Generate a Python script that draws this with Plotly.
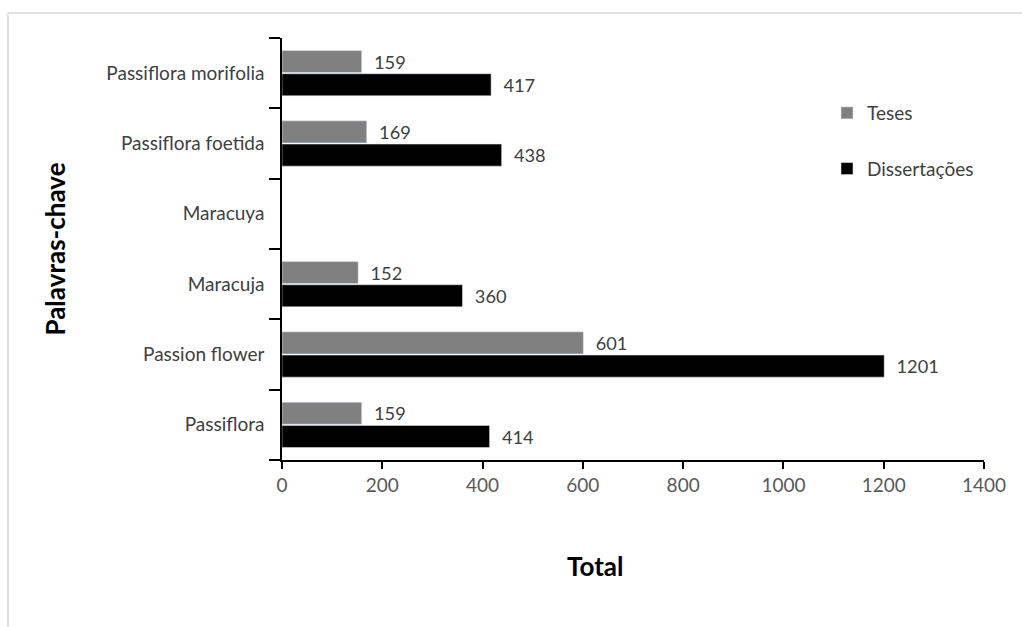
import plotly.graph_objects as go

categories = ["Passiflora", "Passion flower", "Maracuja", "Maracuya", "Passiflora foetida", "Passiflora morifolia"]
teses = [159, 601, 152, None, 169, 159]
dissertacoes = [414, 1201, 360, None, 438, 417]
x_ticks = [0, 200, 400, 600, 800, 1000, 1200, 1400]

W, H = 1022, 627
L, R, T, B = 282, 38, 38, 167
FONT = "Lato, Open Sans, sans-serif"
PAD = "\u00a0\u00a0"

fig = go.Figure()
fig.add_trace(go.Bar(
    y=categories, x=dissertacoes, orientation="h", name="Dissertações",
    legendgroup="d", legendrank=2,
    marker=dict(color="#000000"),
    text=[PAD + str(v) if v is not None else "" for v in dissertacoes],
    textposition="outside", cliponaxis=False,
    textfont=dict(size=19, color="#404040", family=FONT),
))
fig.add_trace(go.Bar(
    y=categories, x=teses, orientation="h", name="Teses",
    legendgroup="t", legendrank=1,
    marker=dict(color="#808080"),
    text=[PAD + str(v) if v is not None else "" for v in teses],
    textposition="outside", cliponaxis=False,
    textfont=dict(size=19, color="#404040", family=FONT),
))

pw = W - L - R
ph = H - T - B
def px_x(p):
    return (p - L) / pw
def px_y(p):
    return (H - B - p) / ph

fig.update_layout(
    width=W, height=H,
    margin=dict(l=L, r=R, t=T, b=B),
    paper_bgcolor="white", plot_bgcolor="white",
    barmode="group", bargap=0.34, bargroupgap=0.05,
    font=dict(family=FONT, size=19, color="#595959"),
    showlegend=True,
    legend=dict(
        x=px_x(827), y=px_y(94), xanchor="left", yanchor="top",
        traceorder="grouped", tracegroupgap=28,
        font=dict(size=19, color="#404040", family=FONT),
        bgcolor="rgba(0,0,0,0)", itemwidth=30,
    ),
    xaxis=dict(
        range=[0, 1400], tickvals=x_ticks, ticktext=[str(v) for v in x_ticks],
        showgrid=False, zeroline=False,
        showline=True, linecolor="#000000", linewidth=1.5,
        ticks="outside", ticklen=7, tickcolor="#000000", tickwidth=1.5,
        tickfont=dict(size=19, color="#595959", family=FONT),
    ),
    yaxis=dict(
        showgrid=False, zeroline=False,
        showline=True, linecolor="#000000", linewidth=1.5,
        ticks="outside", ticklen=11, tickcolor="#000000", tickwidth=1.5,
        tickson="boundaries", ticklabelstandoff=12,
        tickfont=dict(size=19, color="#404040", family=FONT),
        title=dict(text="<b>Palavras-chave</b>", font=dict(size=26, color="#000000", family=FONT), standoff=33),
        categoryorder="array", categoryarray=categories,
    ),
    annotations=[
        dict(text="<b>Total</b>", xref="paper", yref="paper", x=px_x(595), y=px_y(566),
             xanchor="center", yanchor="middle", showarrow=False,
             font=dict(size=26, color="#000000", family=FONT)),
    ],
    shapes=[
        dict(type="line", xref="paper", yref="paper", x0=px_x(8), x1=px_x(1030), y0=px_y(13), y1=px_y(13),
             line=dict(color="#d9d9d9", width=1.5)),
        dict(type="line", xref="paper", yref="paper", x0=px_x(8), x1=px_x(8), y0=px_y(13), y1=px_y(640),
             line=dict(color="#d9d9d9", width=1.5)),
    ],
)

fig.write_html("out.html")
